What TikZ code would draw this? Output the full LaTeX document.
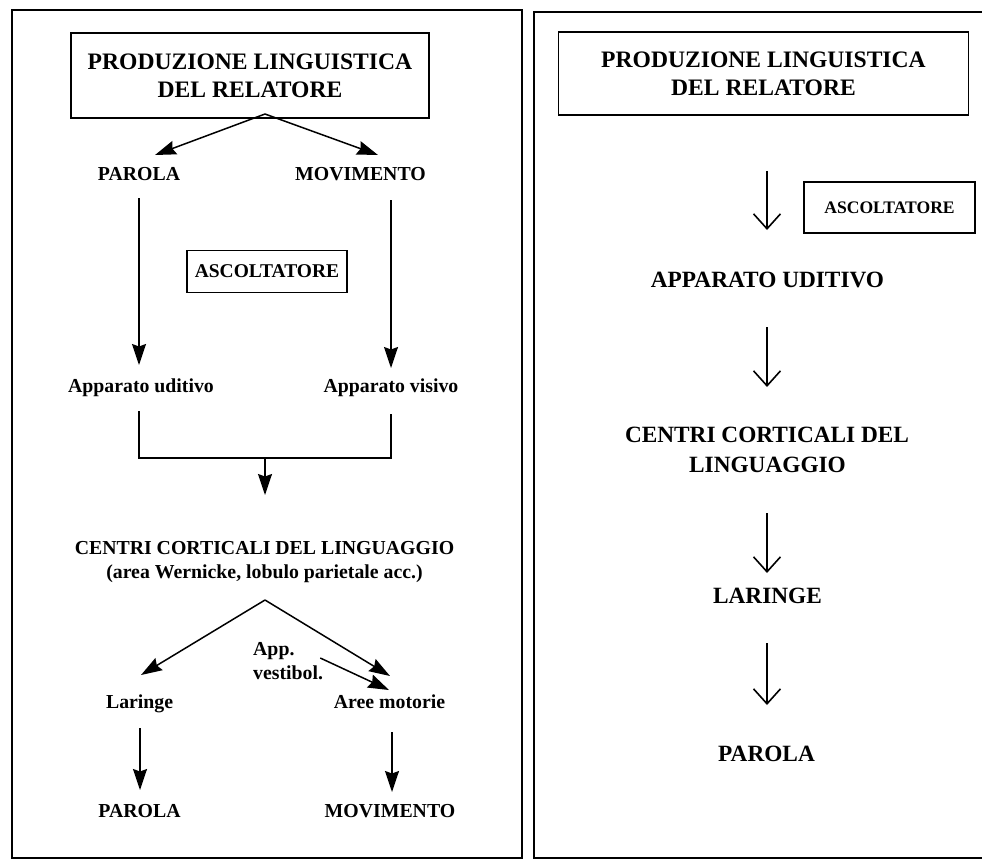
\documentclass[tikz,border=0pt]{standalone}
\usepackage{fontspec}
\setmainfont{Liberation Serif}
\usetikzlibrary{arrows.meta,calc}
\begin{document}
\begin{tikzpicture}[x=1pt,y=-1pt,
  frame/.style={line width=2.4pt},
  boxed/.style={draw,line width=1.8pt,inner sep=0pt},
  title/.style={boxed,align=center,font=\fontsize{23.6}{28}\selectfont\bfseries},
  lbl/.style={font=\fontsize{19.8}{24}\selectfont\bfseries,inner sep=0pt,anchor=base},
  big/.style={font=\fontsize{23.3}{30}\selectfont\bfseries,inner sep=0pt,anchor=base},
  farr/.style={line width=1.5pt,-{Stealth[length=21pt,width=14pt,inset=2.5pt]}},
  oarr/.style={line width=1.6pt,-{Straight Barb[length=15pt,width=27pt]}},
  ln/.style={line width=1.5pt}]
\useasboundingbox (0,0) rectangle (982,860);
\clip (0,0) rectangle (982,860);
\fill[white] (0,0) rectangle (982,860);

% frames
\draw[frame] (12,10) rectangle (522,858);
\draw[frame] (534,12) rectangle (1000,858);

% ---------------- left panel ----------------
\node[title,minimum width=358pt,minimum height=85pt] (t1) at (250,75.5)
  {PRODUZIONE LINGUISTICA\\DEL RELATORE};
\node[lbl] (p1) at (139,180) {PAROLA};
\node[lbl] (m1) at (360.5,180) {MOVIMENTO};
\node[boxed,minimum width=160pt,minimum height=42pt,
  font=\fontsize{19.5}{24}\selectfont\bfseries] (asc1) at (267,271.5) {ASCOLTATORE};
\node[lbl] (au) at (141,392) {Apparato uditivo};
\node[lbl] (av) at (391,392) {Apparato visivo};
\node[lbl] (cc) at (264.5,554) {CENTRI CORTICALI DEL LINGUAGGIO};
\node[lbl] (ccb) at (264.5,578) {(area Wernicke, lobulo parietale acc.)};
\node[lbl,anchor=base west] (app) at (253,655) {App.};
\node[lbl,anchor=base west] (vest) at (253,679) {vestibol.};
\node[lbl] (lr) at (139.6,708) {Laringe};
\node[lbl] (ar) at (389.5,708) {Aree motorie};
\node[lbl] (pb) at (139.5,817) {PAROLA};
\node[lbl] (mb) at (390,817) {MOVIMENTO};

\coordinate (ap1) at (265,114);
\coordinate (mj) at (265,458);
\coordinate (ap2) at (265,600);

\draw[farr] (ap1) -- ($(p1.base)+(16,-25)$);
\draw[farr] (ap1) -- ($(m1.base)+(17.5,-25)$);
\draw[farr] ($(p1.base)+(0,18)$) -- ($(au.base)+(-2,-27)$);
\draw[farr] ($(m1.base)+(30.5,20)$) -- ($(av.base)+(0,-24)$);
\draw[ln] ($(au.base)+(-2,19)$) |- (mj) -| ($(av.base)+(0,22)$);
\draw[farr] (mj) -- ($(cc.base)+(0.5,-59)$);
\draw[farr] (ap2) -- ($(lr.base)+(1.4,-33)$);
\draw[farr] (ap2) -- ($(ar.base)+(0.5,-32)$);
\draw[farr] ($(vest.base east)+(-3,-21)$) -- ($(ar.base)+(-0.5,-18)$);
\draw[farr] ($(lr.base)+(0.4,20)$) -- ($(pb.base)+(0.5,-27)$);
\draw[farr] ($(ar.base)+(2.5,24)$) -- ($(mb.base)+(2,-25)$);

% ---------------- right panel ----------------
\node[title,minimum width=410pt,minimum height=83pt] (t2) at (763.5,73.5)
  {PRODUZIONE LINGUISTICA\\DEL RELATORE};
\node[boxed,minimum width=171pt,minimum height=51pt,
  font=\fontsize{17.6}{22}\selectfont\bfseries] (asc2) at (889.5,207.5) {ASCOLTATORE};
\node[big] (ud) at (767.5,287) {APPARATO UDITIVO};
\node[big] (cr1) at (767,442) {CENTRI CORTICALI DEL};
\node[big] (cr2) at (767.5,472) {LINGUAGGIO};
\node[big] (lar) at (767.5,603) {LARINGE};
\node[big] (par2) at (766.5,761) {PAROLA};

\draw[oarr] ($(t2.south)+(3.5,55)$) -- ($(ud.base)+(-0.5,-57)$);
\draw[oarr] ($(ud.base)+(-0.5,40)$) -- ($(cr1.base)+(0,-55)$);
\draw[oarr] ($(cr2.base)+(-0.5,41)$) -- ($(lar.base)+(-0.5,-30)$);
\draw[oarr] ($(lar.base)+(-0.5,40)$) -- ($(par2.base)+(0.5,-56)$);
\end{tikzpicture}
\end{document}
